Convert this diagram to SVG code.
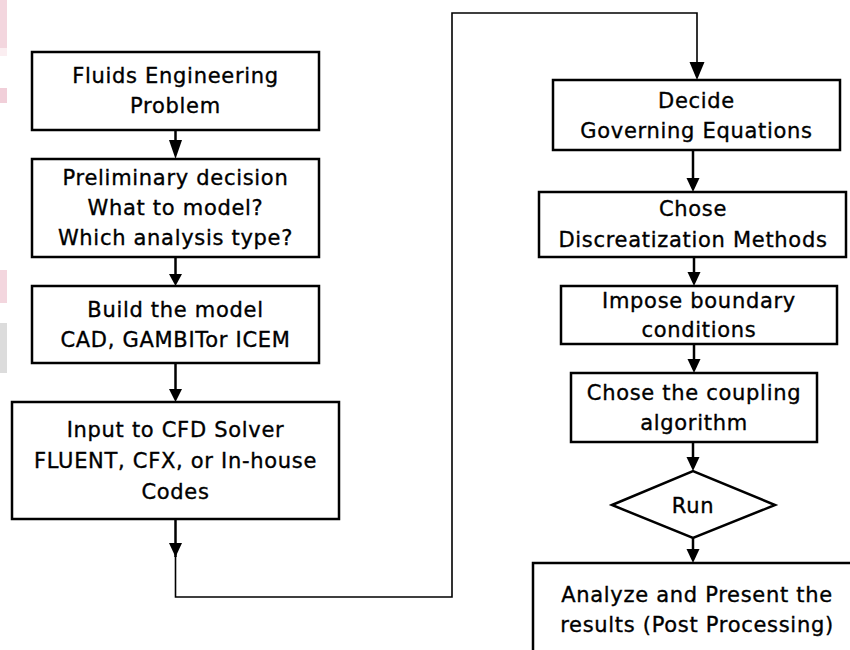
<svg xmlns="http://www.w3.org/2000/svg" width="850" height="650" viewBox="0 0 850 650">
<style>
.box{fill:#fff;stroke:#000;stroke-width:2.5}
.t{font-family:"DejaVu Sans","Liberation Sans",sans-serif;font-size:21px;letter-spacing:0.7px;text-anchor:middle;fill:#000;stroke:#000;stroke-width:0.35}
.ln{fill:none;stroke:#000;stroke-width:2.5}
.thin{fill:none;stroke:#000;stroke-width:1.6}
.ah{fill:#000}
</style>
<rect width="850" height="650" fill="#fff"/>
<g id="artifacts">
<rect x="0" y="0" width="7" height="48" fill="#f3d6de"/>
<rect x="0" y="48" width="7" height="8" fill="#fbeef1"/>
<rect x="0" y="88" width="7" height="15" fill="#f1cfd9"/>
<rect x="0" y="270" width="7" height="33" fill="#f3d6de"/>
<rect x="0" y="323" width="7" height="50" fill="#dcdcdc"/>
</g>
<g id="connectors">
<line class="ln" x1="175.5" y1="130" x2="175.5" y2="146"/>
<polygon class="ah" points="169,140 182,140 175.5,159"/>
<line class="ln" x1="175.5" y1="257" x2="175.5" y2="275"/>
<polygon class="ah" points="169,274 182,274 175.5,286"/>
<line class="ln" x1="175.5" y1="363" x2="175.5" y2="390"/>
<polygon class="ah" points="169,389 182,389 175.5,402"/>
<line class="ln" x1="175.5" y1="519" x2="175.5" y2="557"/>
<polygon class="ah" points="169,543 182,543 175.5,557"/>
<polyline class="thin" points="175.5,556 175.5,597 452,597 452,13 697,13 697,64"/>
<polygon class="ah" points="689.5,62 704.5,62 697,80"/>
<line class="ln" x1="693" y1="150" x2="693" y2="180"/>
<polygon class="ah" points="686.5,178 699.5,178 693,192"/>
<line class="ln" x1="694" y1="257" x2="694" y2="274"/>
<polygon class="ah" points="687.5,272 700.5,272 694,286"/>
<line class="ln" x1="694" y1="344" x2="694" y2="361"/>
<polygon class="ah" points="687.5,359 700.5,359 694,373"/>
<line class="ln" x1="693" y1="442" x2="693" y2="459"/>
<polygon class="ah" points="686.5,457 699.5,457 693,471"/>
<line class="ln" x1="693" y1="538" x2="693" y2="551"/>
<polygon class="ah" points="686.5,549 699.5,549 693,563"/>
</g>
<g id="n1">
<rect class="box" x="32" y="52" width="287" height="78"/>
<text class="t" x="175.5" y="83">Fluids Engineering</text>
<text class="t" x="175.5" y="113">Problem</text>
</g>
<g id="n2">
<rect class="box" x="32" y="159" width="287" height="98"/>
<text class="t" x="175.5" y="185">Preliminary decision</text>
<text class="t" x="175.5" y="215">What to model?</text>
<text class="t" x="175.5" y="245">Which analysis type?</text>
</g>
<g id="n3">
<rect class="box" x="32" y="286" width="287" height="77"/>
<text class="t" x="175.5" y="317">Build the model</text>
<text class="t" x="175.5" y="347">CAD, GAMBITor ICEM</text>
</g>
<g id="n4">
<rect class="box" x="12" y="402" width="327" height="117"/>
<text class="t" x="175.5" y="437">Input to CFD Solver</text>
<text class="t" x="175.5" y="468">FLUENT, CFX, or In-house</text>
<text class="t" x="175.5" y="499">Codes</text>
</g>
<g id="n5">
<rect class="box" x="553" y="80" width="287" height="70"/>
<text class="t" x="696.5" y="108">Decide</text>
<text class="t" x="696.5" y="138">Governing Equations</text>
</g>
<g id="n6">
<rect class="box" x="539" y="192" width="307" height="65"/>
<text class="t" x="693" y="216">Chose</text>
<text class="t" x="693" y="247">Discreatization Methods</text>
</g>
<g id="n7">
<rect class="box" x="561" y="286" width="276" height="58"/>
<text class="t" x="699" y="308">Impose boundary</text>
<text class="t" x="699" y="337">conditions</text>
</g>
<g id="n8">
<rect class="box" x="571" y="373" width="246" height="69"/>
<text class="t" x="694" y="400">Chose the coupling</text>
<text class="t" x="694" y="430">algorithm</text>
</g>
<g id="n9">
<polygon class="box" points="612,505 693,471 775,505 693,538"/>
<text class="t" x="693" y="513">Run</text>
</g>
<g id="n10">
<rect class="box" x="533" y="563" width="330" height="100"/>
<text class="t" x="697" y="602">Analyze and Present the</text>
<text class="t" x="697" y="632">results (Post Processing)</text>
</g>
</svg>
